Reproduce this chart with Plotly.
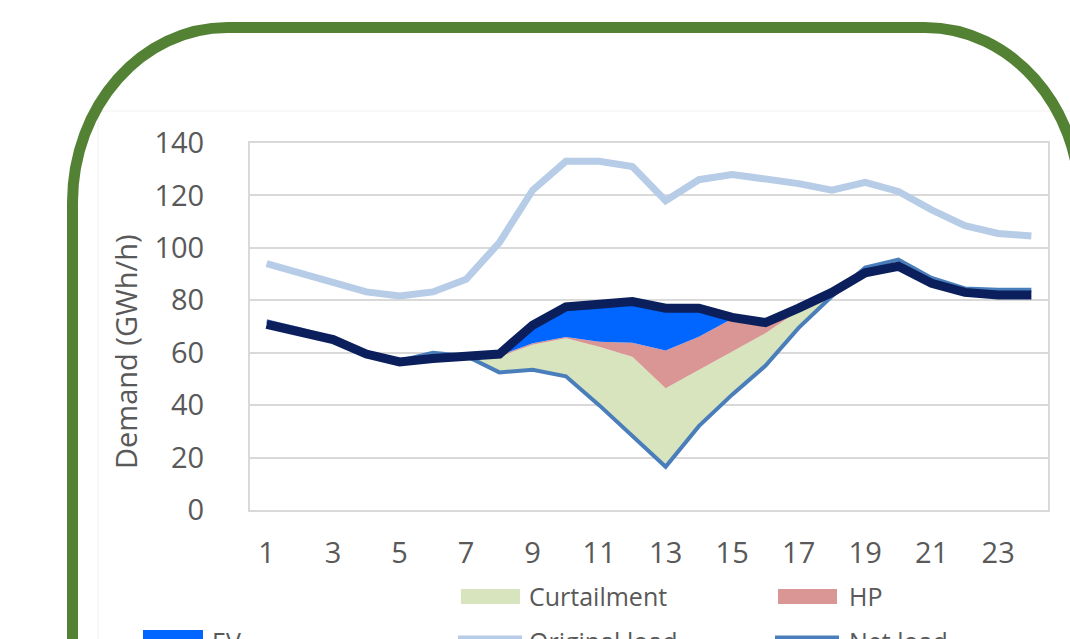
import plotly.graph_objects as go

# ---------------- data ----------------
hours = list(range(1, 25))
tick_vals = [1, 3, 5, 7, 9, 11, 13, 15, 17, 19, 21, 23]
tick_text = [str(v) for v in tick_vals]

original_load = [94, 90.4, 86.7, 83.2, 81.6, 83.2, 88, 102, 122, 133, 133, 131,
                 118, 126, 128, 126.5, 124.5, 122, 125, 121.5, 114.5, 108.5, 105.5, 104.5]
net_load = [72, 69, 65.5, 60, 57, 60, 58.8, 52.5, 53.5, 51, 40, 28,
            16.5, 32, 44, 55, 69.5, 81.5, 92.5, 95.5, 88.5, 84.5, 84, 84]
curtailment = [0, 0, 0, 0, 0, 0, 0, 6, 9.5, 14.5, 22.3, 30.5,
               29.9, 21.4, 16.4, 12.4, 6.5, 0, 0, 0, 0, 0, 0, 0]
hp = [0, 0, 0, 0, 0, 0, 0, 0.5, 0.6, 0.5, 1.9, 5.3,
      14.4, 12.7, 12.6, 4.1, 0, 0, 0, 0, 0, 0, 0, 0]
ev = [0, 0, 0, 0, 0, 0, 0, 0.5, 6.9, 11.6, 14.3, 15.7,
      16.2, 10.9, 0.5, 0, 0, 0, 0, 0, 0, 0, 0, 0]
final_load = [70.8, 68, 65, 59.5, 56.5, 57.8, 58.8, 59.5, 70.5, 77.5, 78.5, 79.5,
              77, 77, 73.5, 71.5, 77, 83, 90.5, 93, 86.5, 83, 82, 82]

legend_names = ["Curtailment", "HP", "EV", "Original load", "Net load"]

# ---------------- geometry helpers ----------------
W, H = 1070, 639
ML, MR, MT, MB = 250, 22, 143, 129
PW, PH = W - ML - MR, H - MT - MB


def px(x):
    return (x - ML) / PW


def py(y):
    return (H - MB - y) / PH


TXT = "#595959"
FONT = "Open Sans"

fig = go.Figure()

# stacked areas (base = net load, transparent)
fig.add_trace(go.Scatter(x=hours, y=net_load, stackgroup="s", mode="lines",
                         line=dict(width=0, color="rgba(0,0,0,0)"),
                         fillcolor="rgba(0,0,0,0)", showlegend=False, hoverinfo="skip"))
fig.add_trace(go.Scatter(x=hours, y=curtailment, stackgroup="s", mode="lines", name="Curtailment",
                         line=dict(width=0, color="#D7E4BD"), fillcolor="#D7E4BD", showlegend=False))
fig.add_trace(go.Scatter(x=hours, y=hp, stackgroup="s", mode="lines", name="HP",
                         line=dict(width=0, color="#D99694"), fillcolor="#D99694", showlegend=False))
fig.add_trace(go.Scatter(x=hours, y=ev, stackgroup="s", mode="lines", name="EV",
                         line=dict(width=0, color="#0066FF"), fillcolor="#0066FF", showlegend=False))

# lines
fig.add_trace(go.Scatter(x=hours, y=original_load, mode="lines", name="Original load",
                         line=dict(color="#B7CCE6", width=7), showlegend=False))
fig.add_trace(go.Scatter(x=hours, y=net_load, mode="lines", name="Net load",
                         line=dict(color="#4A7EBB", width=4), showlegend=False))
fig.add_trace(go.Scatter(x=hours, y=final_load, mode="lines", name="Final load",
                         line=dict(color="#0A1F5C", width=9), showlegend=False))

shapes = []

# green rounded frame
k = 0.5523
T, L, R = 27.5, 72.5, 1080
a1, b1 = 155, 175
a2, b2 = 155, 175
xr0 = 925
yb = 720


def P(x, y):
    return f"{px(x):.5f},{py(y):.5f}"


path = (f"M {P(L, yb)} L {P(L, T + b1)} "
        f"C {P(L, T + b1 - k * b1)} {P(L + a1 - k * a1, T)} {P(L + a1, T)} "
        f"L {P(xr0, T)} "
        f"C {P(xr0 + k * a2, T)} {P(R, T + b2 - k * b2)} {P(R, T + b2)} "
        f"L {P(R, yb)}")
shapes.append(dict(type="path", xref="paper", yref="paper", path=path,
                   line=dict(color="#548235", width=11), fillcolor="rgba(0,0,0,0)", layer="above"))

# faint chart-area edge
shapes.append(dict(type="line", xref="paper", yref="paper", x0=px(98), x1=px(1070), y0=py(111), y1=py(111),
                   line=dict(color="#F0F0F0", width=1), layer="below"))
shapes.append(dict(type="line", xref="paper", yref="paper", x0=px(98), x1=px(98), y0=py(111), y1=py(700),
                   line=dict(color="#F0F0F0", width=1), layer="below"))

# manual legend symbols
shapes.append(dict(type="rect", xref="paper", yref="paper", x0=px(461), x1=px(520), y0=py(589), y1=py(604),
                   fillcolor="#D7E4BD", line=dict(width=0)))
shapes.append(dict(type="rect", xref="paper", yref="paper", x0=px(778), x1=px(837), y0=py(589), y1=py(604),
                   fillcolor="#D99694", line=dict(width=0)))
shapes.append(dict(type="rect", xref="paper", yref="paper", x0=px(143), x1=px(203), y0=py(630), y1=py(645),
                   fillcolor="#0066FF", line=dict(width=0)))
shapes.append(dict(type="line", xref="paper", yref="paper", x0=px(458), x1=px(522), y0=py(639), y1=py(639),
                   line=dict(color="#B7CCE6", width=7)))
shapes.append(dict(type="line", xref="paper", yref="paper", x0=px(775), x1=px(839), y0=py(639), y1=py(639),
                   line=dict(color="#4A7EBB", width=7)))

annotations = []
leg_pos = [(527, 596), (847, 596), (210, 641), (527, 641), (847, 641)]
for name, (lx, ly) in zip(legend_names, leg_pos):
    annotations.append(dict(text=name, xref="paper", yref="paper", x=px(lx), y=py(ly),
                            xanchor="left", yanchor="middle", showarrow=False,
                            font=dict(family=FONT, size=25, color=TXT)))

annotations.append(dict(text="Demand (GWh/h)", xref="paper", yref="paper", x=px(125), y=py(352),
                        xanchor="center", yanchor="middle", textangle=-90, showarrow=False,
                        font=dict(family=FONT, size=29, color=TXT)))

fig.update_layout(
    width=W, height=H,
    margin=dict(l=ML, r=MR, t=MT, b=MB, pad=0),
    paper_bgcolor="white", plot_bgcolor="white",
    showlegend=False,
    shapes=shapes, annotations=annotations,
    font=dict(family=FONT, size=29, color=TXT),
    xaxis=dict(range=[0.5, 24.5], tickmode="array", tickvals=tick_vals, ticktext=tick_text,
               showgrid=False, zeroline=False, showline=True, mirror=True,
               linecolor="#D9D9D9", linewidth=2, ticks="", ticklabelstandoff=16,
               tickfont=dict(family=FONT, size=29, color=TXT)),
    yaxis=dict(range=[0, 140], tickmode="linear", tick0=0, dtick=20,
               showgrid=True, gridcolor="#D9D9D9", gridwidth=2, zeroline=False,
               showline=True, mirror=True, linecolor="#D9D9D9", linewidth=2,
               ticks="", ticklabelstandoff=38,
               tickfont=dict(family=FONT, size=29, color=TXT)),
)

fig.write_html(
    "out.html",
    config={"displayModeBar": False},
    post_script="document.body.style.margin='0px';document.body.style.overflow='hidden';",
)
